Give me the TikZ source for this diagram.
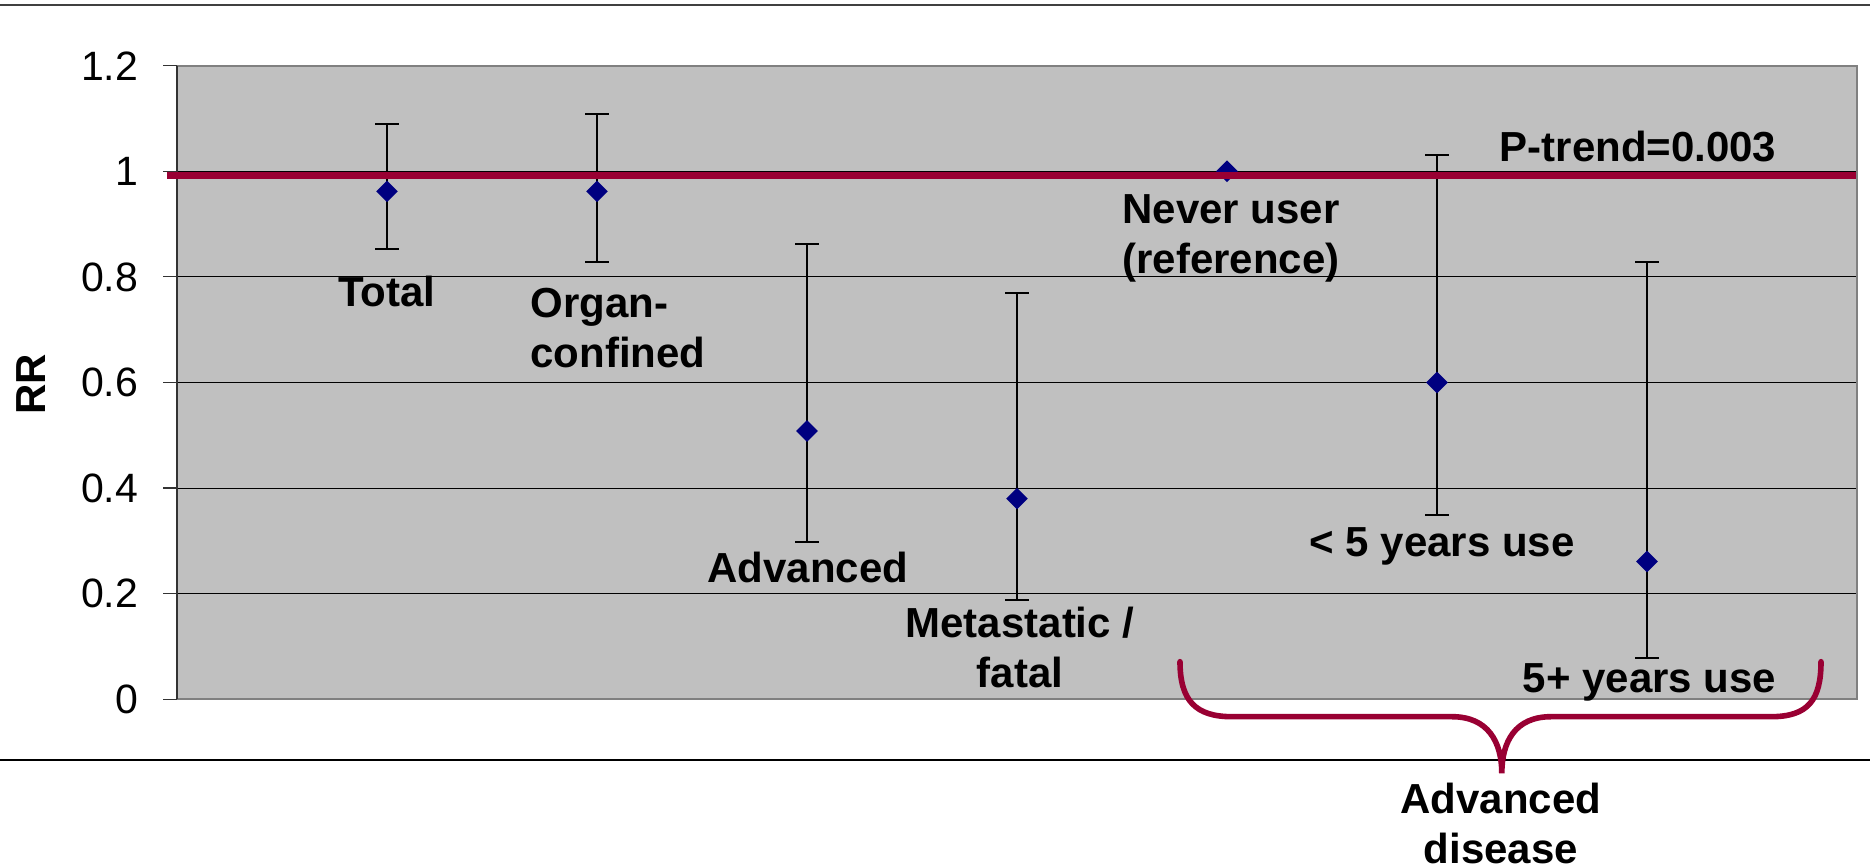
\documentclass[tikz,border=0pt]{standalone}
\usepackage{fontspec}
\setmainfont{Liberation Sans}
\usetikzlibrary{shapes.geometric}
\definecolor{plotgray}{HTML}{C0C0C0}
\definecolor{rline}{HTML}{990033}
\definecolor{navy}{HTML}{000080}
\begin{document}
\begin{tikzpicture}[x=0.5pt,y=-0.5pt,
  lbl/.style={font=\fontsize{21}{25}\selectfont\bfseries, inner sep=0pt, align=center},
  ticklbl/.style={font=\fontsize{20.5}{24}\selectfont, inner sep=0pt, anchor=east},
  datapt/.style={diamond, fill=navy, inner sep=0pt, minimum width=11pt, minimum height=11pt},
  ebar/.style={line width=1pt, black},
  grid line/.style={line width=0.5pt, black},
  frame/.style={line width=1pt, gray},
]
\useasboundingbox (0,0) rectangle (1870,865);
% horizontal rules across the page
\draw[line width=1pt, black!75] (0,4.7) -- (1870,4.7);
\draw[line width=0.6pt, black] (0,760) -- (1870,760);
% plot area
\fill[plotgray] (177,65.7) rectangle (1857,699.3);
\foreach \v in {0.2,0.4,0.6,0.8,1.0}
  \draw[grid line] (177,{699.3-528*\v}) -- (1857,{699.3-528*\v});
\draw[frame] (177,65.7) -- (1857,65.7) -- (1857,699.3) -- (177,699.3);
\draw[line width=1pt, black!80] (177,65.7) -- (177,699.3);
% ticks and tick labels
\foreach \v/\t in {0/0,0.2/0.2,0.4/0.4,0.6/0.6,0.8/0.8,1/1,1.2/1.2} {
  \draw[line width=0.6pt, black!80] (163,{699.3-528*\v}) -- (177,{699.3-528*\v});
  \node[ticklbl] (t\t) at (138.4,{699.3-528*\v}) {\t};
}
\node[lbl, rotate=90] (rr) at (31,384) {RR};
% error bars and points
\foreach \n/\x/\m/\lo/\hi in {a/387/0.962/0.853/1.089, b/597/0.962/0.829/1.109, c/807/0.508/0.298/0.862, d/1017/0.380/0.188/0.769, f/1437/0.600/0.349/1.031, g/1647/0.261/0.078/0.829} {
  \draw[ebar] (\x,{699.3-528*\lo}) -- (\x,{699.3-528*\hi});
  \draw[ebar] (\x-12,{699.3-528*\lo}) -- (\x+12,{699.3-528*\lo});
  \draw[ebar] (\x-12,{699.3-528*\hi}) -- (\x+12,{699.3-528*\hi});
  \node[datapt] (p\n) at (\x,{699.3-528*\m}) {};
}
\node[datapt] (pe) at (1227,{699.3-528*1.0}) {};
% reference line
\draw[rline, line width=3.2pt] (167,175.7) -- (1856,175.7);
% labels
\node[lbl, anchor=base] (ltotal) at (387,306.7) {Total};
\node[lbl, anchor=north west, align=left] (lorgan) at (530,288) {Organ-\\confined};
\node[lbl, anchor=base] (ladv) at (808,582.7) {Advanced};
\node[lbl, anchor=north] (lmeta) at (1020,607) {Metastatic /\\fatal};
\node[lbl, anchor=north] (lnever) at (1231,194) {Never user\\(reference)};
\node[lbl, anchor=base] (lp) at (1638,161.7) {P-trend=0.003};
\node[lbl, anchor=base] (lfive) at (1442,556.7) {< 5 years use};
\node[lbl, anchor=base] (lfiveplus) at (1649.6,692.7) {5+ years use};
\node[lbl, anchor=north] (ladvd) at (1501,782.3) {Advanced\\disease};
% brace
\draw[rline, line width=2.8pt, line cap=round]
  (1180,661.7) .. controls (1180,700) and (1195,716.7) .. (1232,716.7)
  -- (1452,716.7) .. controls (1488,716.7) and (1501.8,742) .. (1501.8,773.3)
  .. controls (1501.8,742) and (1515,716.7) .. (1551,716.7)
  -- (1771,716.7) .. controls (1808,716.7) and (1821,700) .. (1821,661.7);
\end{tikzpicture}
\end{document}
